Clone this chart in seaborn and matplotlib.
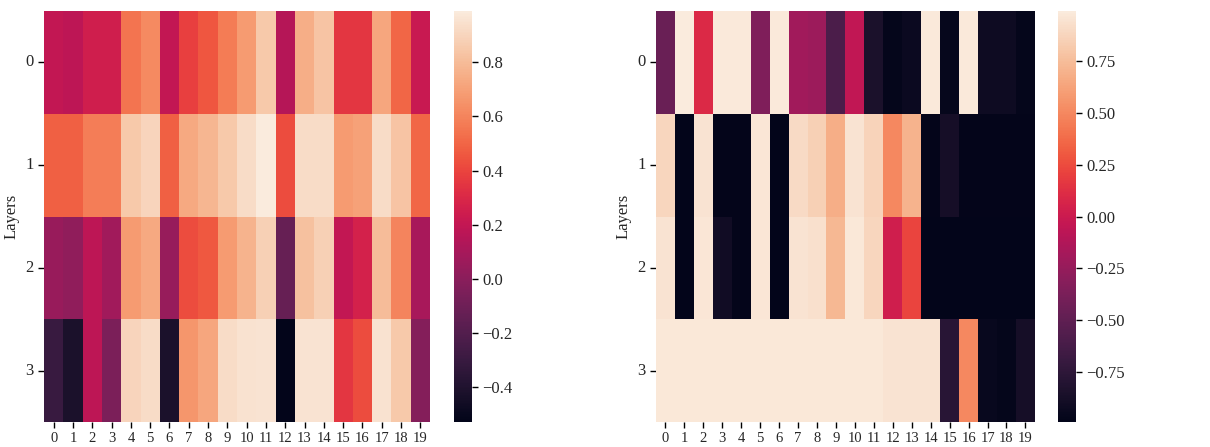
import numpy as np
import pandas as pd
import seaborn as sns
import matplotlib
matplotlib.use("Agg")
import matplotlib.pyplot as plt

sns.set_theme(style="white")
plt.rcParams['font.family'] = ['Liberation Serif', 'DejaVu Serif']

layers = ["0", "1", "2", "3"]
heads = [str(i) for i in range(20)]

left_row0 = [0.20, 0.18, 0.25, 0.25, 0.55, 0.62, 0.20, 0.38, 0.45, 0.57, 0.68, 0.85, 0.15, 0.75, 0.83, 0.35, 0.35, 0.72, 0.50, 0.22]
left_row1 = [0.48, 0.48, 0.58, 0.58, 0.85, 0.90, 0.48, 0.73, 0.78, 0.85, 0.93, 0.99, 0.42, 0.93, 0.93, 0.68, 0.70, 0.93, 0.83, 0.50]
left_row2 = [0.05, 0.02, 0.18, 0.08, 0.68, 0.73, 0.04, 0.42, 0.46, 0.68, 0.77, 0.88, -0.13, 0.82, 0.88, 0.20, 0.27, 0.80, 0.60, 0.10]
left_row3 = [-0.30, -0.42, 0.18, -0.05, 0.90, 0.93, -0.42, 0.66, 0.72, 0.93, 0.95, 0.96, -0.53, 0.96, 0.96, 0.35, 0.42, 0.95, 0.85, -0.02]

right_row0 = [-0.45, 0.99, 0.10, 0.98, 0.98, -0.35, 0.98, -0.20, -0.22, -0.60, -0.05, -0.85, -0.97, -0.93, 0.98, -0.96, 0.98, -0.92, -0.92, -0.97]
right_row1 = [0.88, -0.99, 0.95, -0.98, -0.98, 0.96, -0.99, 0.90, 0.85, 0.68, 0.95, 0.86, 0.50, 0.70, -0.98, -0.88, -0.98, -0.98, -0.98, -0.98]
right_row2 = [0.95, -0.99, 0.96, -0.90, -0.98, 0.96, -0.99, 0.95, 0.93, 0.72, 0.97, 0.88, 0.03, 0.22, -0.99, -0.99, -0.99, -0.99, -0.99, -0.99]
right_row3 = [0.97, 0.97, 0.97, 0.97, 0.97, 0.97, 0.97, 0.97, 0.97, 0.97, 0.97, 0.97, 0.95, 0.95, 0.95, -0.78, 0.50, -0.95, -0.97, -0.88]

left_df = pd.DataFrame([left_row0, left_row1, left_row2, left_row3], index=layers, columns=heads)
right_df = pd.DataFrame([right_row0, right_row1, right_row2, right_row3], index=layers, columns=heads)

fig = plt.figure(figsize=(12.1, 4.47), dpi=100)
ax1 = fig.add_axes([0.0364, 0.0559, 0.319, 0.9195])
cax1 = fig.add_axes([0.3752, 0.0559, 0.0149, 0.9195])
ax2 = fig.add_axes([0.5421, 0.0559, 0.3132, 0.9195])
cax2 = fig.add_axes([0.8744, 0.0559, 0.0149, 0.9195])

sns.heatmap(left_df, ax=ax1, cbar_ax=cax1, cmap="rocket")
sns.heatmap(right_df, ax=ax2, cbar_ax=cax2, cmap="rocket")

for ax in (ax1, ax2):
    ax.set_ylabel("Layers", fontsize=12)
    ax.set_yticklabels(layers, rotation=0, fontsize=12)
    ax.set_xticklabels(heads, rotation=0, fontsize=10.5)
    ax.tick_params(axis='both', length=4, width=1, color='black', bottom=True, left=True)

for cax in (cax1, cax2):
    cax.tick_params(labelsize=12, length=4, width=1, color='black', right=True)

fig.savefig("out.png", dpi=100)
